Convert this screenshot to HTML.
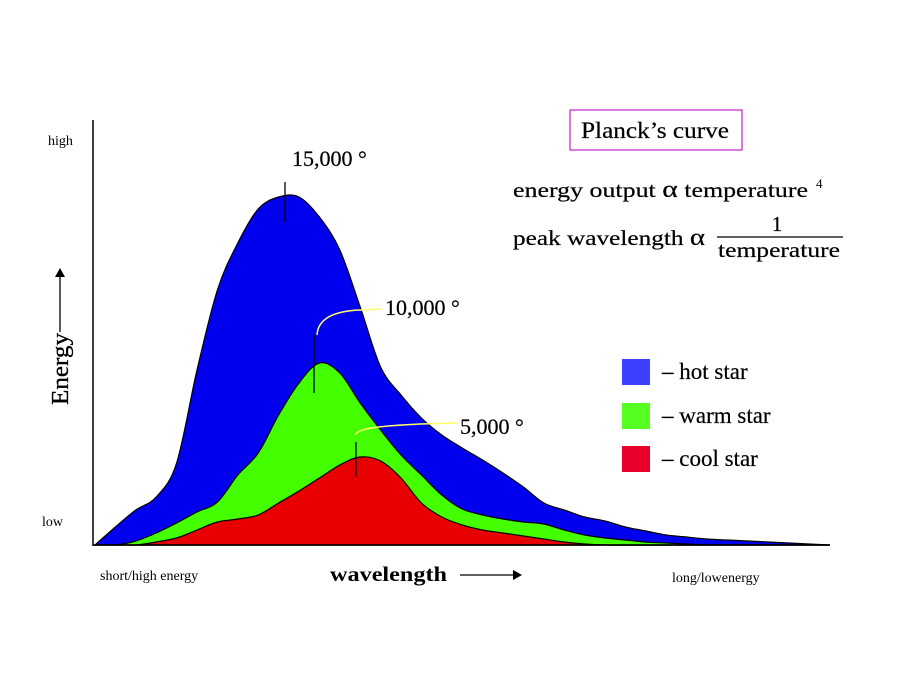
<!DOCTYPE html>
<html><head><meta charset="utf-8"><style>
body{margin:0;background:#fff;}
svg{display:block;font-family:"Liberation Serif",serif;}
</style></head><body>
<svg id="chart" width="900" height="675" viewBox="0 0 900 675">
<rect width="900" height="675" fill="#fff"/>
<g id="areas"></g>
<line x1="93" y1="120" x2="93" y2="546" stroke="#000" stroke-width="1.5"/>
<line x1="93" y1="545" x2="830" y2="545" stroke="#000" stroke-width="1.5"/>
<text x="48" y="145" font-size="14">high</text>
<text x="42" y="526" font-size="14">low</text>
<g>
<text transform="translate(68,405) rotate(-90)" font-size="24" textLength="72" lengthAdjust="spacingAndGlyphs" stroke="#000" stroke-width="0.3">Energy</text>
<line x1="60" y1="332" x2="60" y2="275" stroke="#000" stroke-width="1.3"/>
<polygon points="55,277 65,277 60,268" fill="#000"/>
</g>
<text x="100" y="580" font-size="14">short/high energy</text>
<g>
<text x="330" y="581" font-size="21" font-weight="bold" textLength="117" lengthAdjust="spacingAndGlyphs">wavelength</text>
<line x1="460" y1="575" x2="515" y2="575" stroke="#000" stroke-width="1.3"/>
<polygon points="513,570 513,580 522,575" fill="#000"/>
</g>
<text x="672" y="582" font-size="14">long/lowenergy</text>

<line x1="285" y1="182" x2="285" y2="222" stroke="#000" stroke-width="1.3"/>
<line x1="314" y1="335" x2="314" y2="393" stroke="#000" stroke-width="1.3"/>
<line x1="356" y1="442" x2="356" y2="477" stroke="#000" stroke-width="1.3"/>
<path d="M317,335 C318,318 335,311 360,310 L382,309" fill="none" stroke="#ffff66" stroke-width="1.5"/>
<path d="M355,435 C358,428 380,426 420,424 L458,423" fill="none" stroke="#ffff66" stroke-width="1.5"/>
<text x="292" y="166" font-size="22" stroke="#000" stroke-width="0.2">15,000 °</text>
<text x="385" y="315" font-size="22" stroke="#000" stroke-width="0.2">10,000 °</text>
<text x="460" y="434" font-size="22" stroke="#000" stroke-width="0.2">5,000 °</text>

<rect x="570" y="110" width="172" height="40" fill="none" stroke="#cc33cc" stroke-width="1.3"/>
<text x="581" y="138" font-size="23" textLength="148" lengthAdjust="spacingAndGlyphs" stroke="#000" stroke-width="0.2">Planck’s curve</text>
<text x="513" y="197" font-size="21" textLength="295" lengthAdjust="spacingAndGlyphs" stroke="#000" stroke-width="0.2">energy output <tspan font-size="24">α</tspan>  temperature</text>
<text x="816" y="188" font-size="13">4</text>
<g stroke="#000" stroke-width="0.2">
<text x="513" y="245" font-size="21" textLength="192" lengthAdjust="spacingAndGlyphs">peak wavelength <tspan font-size="24">α</tspan></text>
<text x="777" y="231" font-size="21" text-anchor="middle">1</text>
<line x1="717" y1="237" x2="843" y2="237" stroke="#000" stroke-width="1.2"/>
<text x="718" y="257" font-size="21" textLength="122" lengthAdjust="spacingAndGlyphs">temperature</text>
</g>

<g stroke-width="0.2">
<rect x="622" y="359" width="28" height="26" fill="#3f3fff"/>
<text x="662" y="379" font-size="23" stroke="#000">– hot star</text>
<rect x="622" y="403" width="28" height="26" fill="#55ff22"/>
<text x="662" y="423" font-size="23" stroke="#000">– warm star</text>
<rect x="622" y="446" width="28" height="26" fill="#e8002a"/>
<text x="662" y="466" font-size="23" stroke="#000">– cool star</text>
</g>
</svg>
<script>
const wavelengths = [0,1,2,3,4,5,6,7,8,9,10,11,12,13,14,15,16,17,18,19,20,21,22,23,24,25,26,27,28,29,30,31,32,33,34,35,36];
const hotStar  = [0,18,35,48,82,175,255,302,336,348,348,328,295,238,178,150,127,110,97,85,72,58,42,35,28,24,18,14,10,8,6,5,4,3,2,1,0];
const warmStar = [0,0,4,12,22,33,43,70,92,130,162,182,172,142,115,90,70,50,36,30,26,23,21,15,10,7,5,3,2,1,0,0,0,0,0,0,0];
const coolStar = [0,0,0,3,7,15,23,26,30,42,54,67,80,88,84,67,42,28,20,15,12,9,6,3,1,0,0,0,0,0,0,0,0,0,0,0,0];
const xAt = w => 95 + w * 20.4;
const yAt = e => 545 - e;
function areaPath(vals){
  const pts = wavelengths.map((w,i) => [xAt(w), yAt(vals[i])]);
  let d = 'M' + pts[0][0] + ',' + pts[0][1];
  for (let i = 0; i < pts.length - 1; i++) {
    const p0 = pts[Math.max(0,i-1)], p1 = pts[i], p2 = pts[i+1], p3 = pts[Math.min(pts.length-1,i+2)];
    const c1x = p1[0] + (p2[0]-p0[0])/6, c1y = Math.min(545, p1[1] + (p2[1]-p0[1])/6);
    const c2x = p2[0] - (p3[0]-p1[0])/6, c2y = Math.min(545, p2[1] - (p3[1]-p1[1])/6);
    d += ' C' + c1x.toFixed(1) + ',' + c1y.toFixed(1) + ' ' + c2x.toFixed(1) + ',' + c2y.toFixed(1) + ' ' + p2[0].toFixed(1) + ',' + p2[1].toFixed(1);
  }
  d += ' L' + xAt(wavelengths[0]) + ',' + yAt(0) + ' Z';
  return d;
}
const g = document.getElementById('areas');
const series = [[hotStar,'#0000ee','area-hot-star'],[warmStar,'#44ff00','area-warm-star'],[coolStar,'#e80000','area-cool-star']];
series.forEach(s => {
  const p = document.createElementNS('http://www.w3.org/2000/svg','path');
  p.setAttribute('d', areaPath(s[0]));
  p.setAttribute('fill', s[1]);
  p.setAttribute('stroke', '#000');
  p.setAttribute('stroke-width', '1.2');
  p.setAttribute('stroke-linejoin', 'round');
  
  
  g.appendChild(p);
});
</script>
</body></html>
